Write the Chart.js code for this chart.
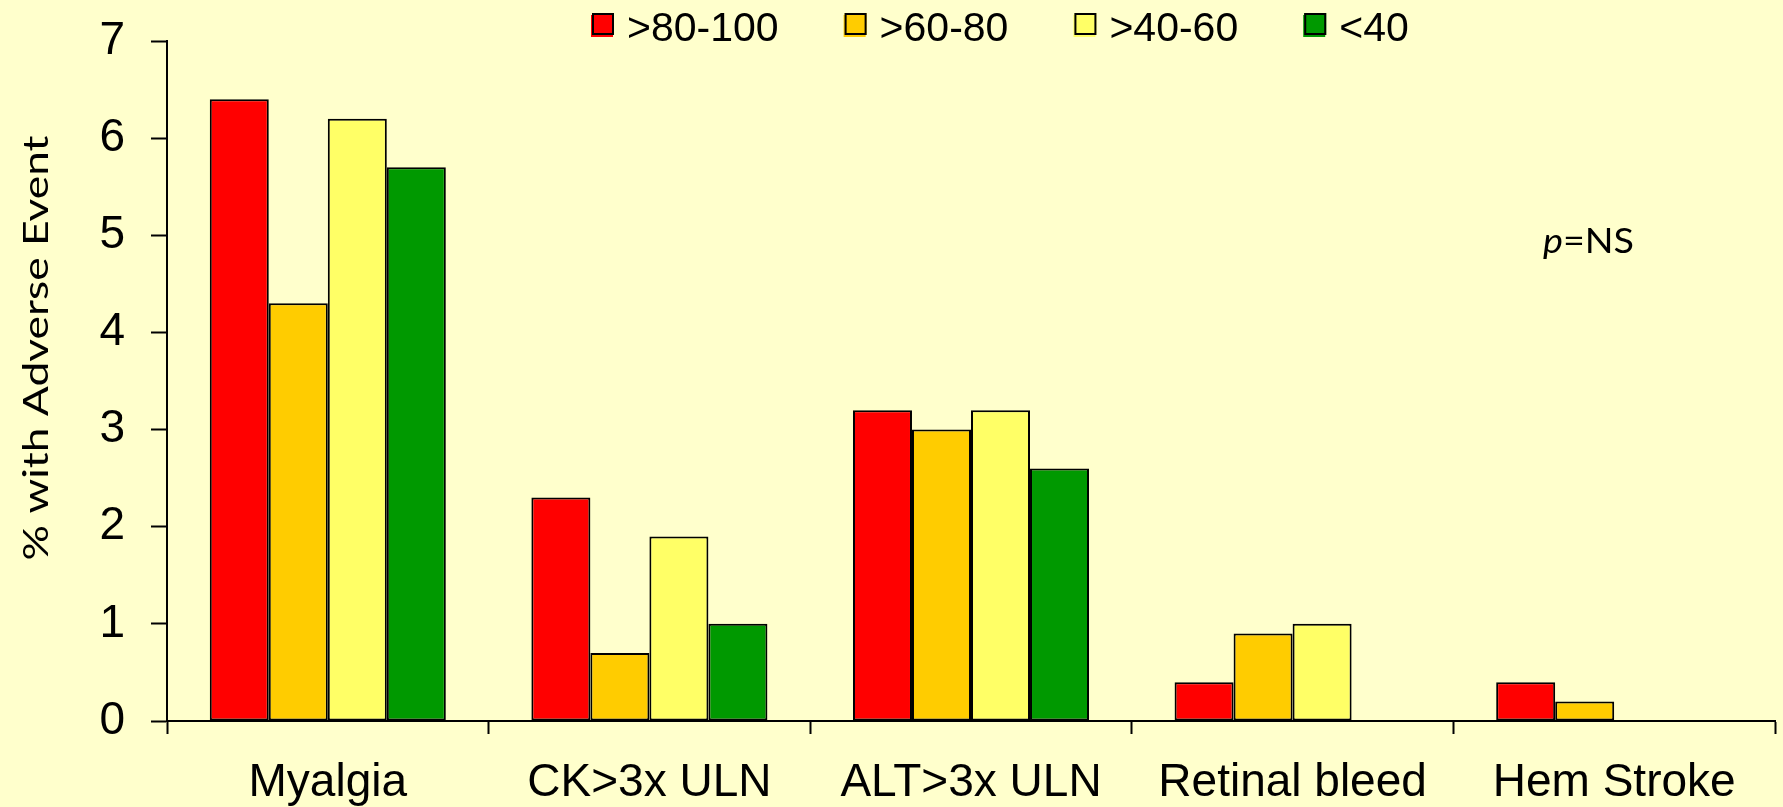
<!DOCTYPE html>
<html>
<head>
<meta charset="utf-8">
<title>% with Adverse Event</title>
<script src="https://cdn.jsdelivr.net/npm/chart.js@4.4.1/dist/chart.umd.min.js"></script>
<style>
  html, body { margin: 0; padding: 0; background: #FFFFCC; }
  #wrap { position: relative; width: 1783px; height: 807px; }
  canvas { display: block; }
</style>
</head>
<body>
<div id="wrap"><canvas id="chart" width="1783" height="807"></canvas></div>
<script>
// Adverse events by group
const categories = ['Myalgia', 'CK>3x ULN', 'ALT>3x ULN', 'Retinal bleed', 'Hem Stroke'];
const seriesLabels = ['>80-100', '>60-80', '>40-60', '<40'];
const values80to100 = [6.4, 2.3, 3.2, 0.4, 0.4];
const values60to80 = [4.3, 0.7, 3.0, 0.9, 0.2];
const values40to60 = [6.2, 1.9, 3.2, 1.0, null];
const valuesBelow40 = [5.7, 1.0, 2.6, null, null];
const yTicks = [0, 1, 2, 3, 4, 5, 6, 7];
const yTitle = '% with Adverse Event';
const noteText = ['p', '=NS'];

const seriesColors = ['#FF0000', '#FFCC00', '#FFFF66', '#009900'];
const seriesValues = [values80to100, values60to80, values40to60, valuesBelow40];

const ARIAL = '"Liberation Sans", Arial, sans-serif';
const CAL = 'Lato, "Open Sans", sans-serif';

// Top legend: square swatches with black outline
const legendPlugin = {
  id: 'topLegend',
  afterDraw(chart) {
    const ctx = chart.ctx;
    ctx.save();
    ctx.font = '41px ' + ARIAL;
    ctx.textBaseline = 'alphabetic';
    ctx.textAlign = 'left';
    let x = 592;
    const boxTop = 13, box = 22;
    chart.data.datasets.forEach(ds => {
      // soft offset shadow in the swatch colour
      ctx.fillStyle = ds.backgroundColor;
      ctx.fillRect(x - 1, boxTop + 2, box, box);
      ctx.fillRect(x, boxTop, box, box);
      ctx.lineWidth = 2;
      ctx.strokeStyle = '#000';
      ctx.strokeRect(x + 1, boxTop + 1, box - 2, box - 2);
      ctx.fillStyle = '#000';
      const tx = x + box + 13;
      ctx.fillText(ds.label, tx, 41);
      x = tx + ctx.measureText(ds.label).width + 66;
    });
    ctx.restore();
  }
};

// Rotated y-axis title and the significance note
const textPlugin = {
  id: 'extraText',
  afterDraw(chart) {
    const ctx = chart.ctx;
    ctx.save();
    ctx.fillStyle = '#000';
    ctx.font = '35px ' + CAL;
    const w = ctx.measureText(yTitle).width;
    const sx = 425 / w;
    ctx.translate(48, 348);
    ctx.rotate(-Math.PI / 2);
    ctx.scale(sx, 1);
    ctx.textAlign = 'center';
    ctx.textBaseline = 'alphabetic';
    ctx.fillText(yTitle, 0, 0);
    ctx.restore();

    ctx.save();
    ctx.fillStyle = '#000';
    ctx.textBaseline = 'alphabetic';
    ctx.textAlign = 'left';
    ctx.font = 'italic 35px ' + CAL;
    const wp = ctx.measureText(noteText[0]).width;
    ctx.font = '35px ' + CAL;
    const wr = ctx.measureText(noteText[1]).width;
    const s2 = 91 / (wp + wr);
    ctx.translate(1543, 253);
    ctx.scale(s2, 1);
    ctx.font = 'italic 35px ' + CAL;
    ctx.fillText(noteText[0], 0, 0);
    ctx.font = '35px ' + CAL;
    ctx.fillText(noteText[1], wp, 0);
    ctx.restore();
  }
};

new Chart(document.getElementById('chart'), {
  type: 'bar',
  data: {
    labels: categories,
    datasets: seriesLabels.map((label, i) => ({
      label,
      data: seriesValues[i],
      backgroundColor: seriesColors[i],
      borderColor: '#000000',
      borderWidth: 2,
      borderSkipped: false,
      categoryPercentage: 0.734,
      barPercentage: 1.0
    }))
  },
  options: {
    responsive: false,
    animation: false,
    layout: { padding: { top: 41, right: 8, left: 0, bottom: 0 } },
    plugins: {
      legend: { display: false },
      tooltip: { enabled: false },
      title: { display: false }
    },
    scales: {
      x: {
        afterFit(scale) { scale.height = 86; },
        grid: {
          display: true,
          offset: true,
          drawOnChartArea: false,
          drawTicks: true,
          tickLength: 13,
          tickWidth: 2,
          tickColor: '#000'
        },
        border: { display: true, color: '#000', width: 2 },
        ticks: {
          color: '#000',
          font: { family: ARIAL, size: 46, lineHeight: 1.2 },
          padding: 22,
          maxRotation: 0,
          autoSkip: false
        }
      },
      y: {
        min: 0,
        max: 7,
        afterFit(scale) {
          scale.width = 167;
          scale.paddingTop = 0;
          scale.paddingBottom = 0;
        },
        afterBuildTicks(scale) { scale.ticks = yTicks.map(v => ({ value: v })); },
        grid: {
          display: true,
          drawOnChartArea: false,
          drawTicks: true,
          tickLength: 16,
          tickWidth: 2,
          tickColor: '#000'
        },
        border: { display: true, color: '#000', width: 2 },
        ticks: {
          color: '#000',
          font: { family: ARIAL, size: 46 },
          padding: 26
        }
      }
    }
  },
  plugins: [legendPlugin, textPlugin]
});
</script>
</body>
</html>
